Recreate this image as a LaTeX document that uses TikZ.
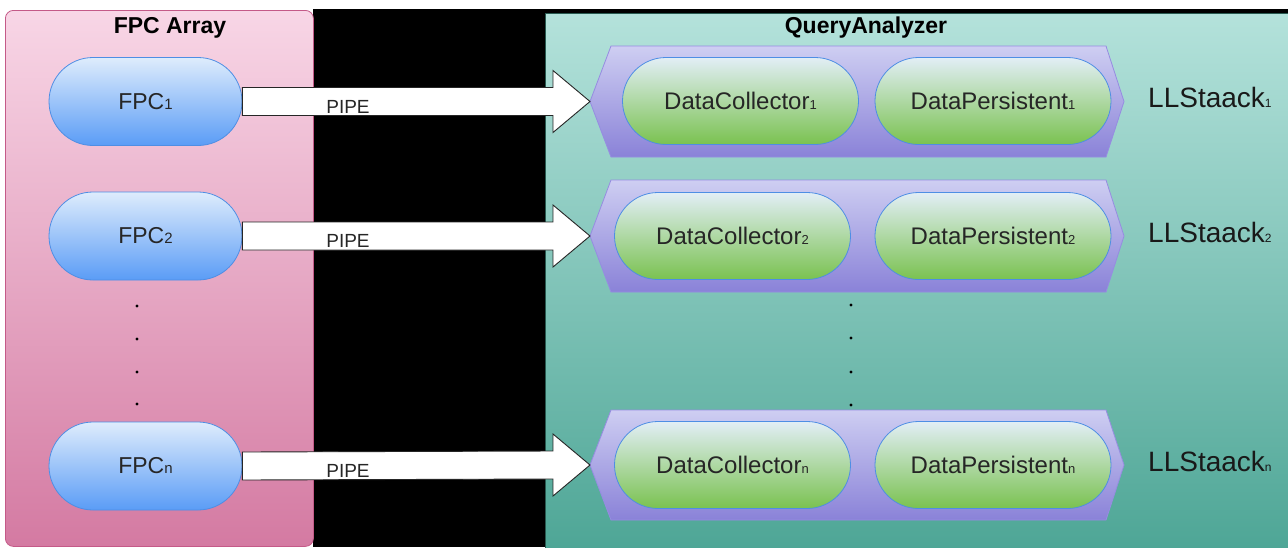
\documentclass[tikz,border=0pt]{standalone}
\usepackage{fontspec}
\setmainfont{Liberation Sans}
\usetikzlibrary{shapes.misc,calc}
\definecolor{pinkT}{RGB}{248,214,230}
\definecolor{pinkB}{RGB}{212,122,162}
\definecolor{pinkD}{RGB}{196,90,136}
\definecolor{tealT}{RGB}{180,226,219}
\definecolor{tealB}{RGB}{78,166,150}
\definecolor{tealD}{RGB}{40,90,80}
\definecolor{blueT}{RGB}{222,236,252}
\definecolor{blueB}{RGB}{90,156,246}
\definecolor{blueD}{RGB}{78,142,228}
\definecolor{greenT}{RGB}{226,238,246}
\definecolor{greenB}{RGB}{122,194,80}
\definecolor{purpT}{RGB}{206,206,242}
\definecolor{purpB}{RGB}{138,130,216}
\definecolor{purpD}{RGB}{150,140,225}
\newcommand{\myidx}[2][13]{{\fontsize{#1}{#1}\selectfont #2}}
\tikzset{
  panelpink/.style={rectangle, rounded corners=8pt, top color=pinkT, bottom color=pinkB, draw=pinkD, line width=0.8pt, inner sep=0pt, anchor=north west},
  panelteal/.style={rectangle, top color=tealT, bottom color=tealB, draw=tealD, line width=0.6pt, inner sep=0pt, anchor=north west},
  titletext/.style={font=\fontsize{23}{23}\selectfont\bfseries, anchor=base, inner sep=0pt},
  fpcnode/.style={rounded rectangle, minimum width=193pt, minimum height=88pt, inner sep=0pt, top color=blueT, bottom color=blueB, draw=blueD, line width=0.8pt, font=\fontsize{23}{23}\selectfont, text=black!85},
  datanode/.style={rounded rectangle, minimum width=236pt, minimum height=87pt, inner sep=0pt, top color=greenT, bottom color=greenB, draw=blueD, line width=0.8pt, font=\fontsize{24}{24}\selectfont, text=black!85},
  hexshape/.style={top color=purpT, bottom color=purpB, draw=purpD, line width=0.8pt},
  pipe/.style={draw=black!85, fill=white, line width=0.9pt},
  pipetext/.style={font=\fontsize{19}{19}\selectfont, anchor=base, inner sep=0pt, text=black!85},
  stacktext/.style={font=\fontsize{28}{28}\selectfont, anchor=base west, inner sep=0pt, text=black!90},
  dotmark/.style={circle, fill=black, inner sep=0pt, minimum size=3.4pt},
}
\begin{document}
\begin{tikzpicture}[x=1pt,y=-1pt]
\useasboundingbox (0,0) rectangle (1288,547);
\fill[white] (0,0) rectangle (1288,547);
% black background
\fill[black] (313,9) rectangle (1288,547);
% panels
\node[panelpink, minimum width=308pt, minimum height=536pt] (arr) at (5,10) {};
\node[panelteal, minimum width=745pt, minimum height=536pt] (qa) at (545,13) {};
\node[titletext] (arrtitle) at (170,33) {FPC Array};
\node[titletext] (qatitle) at (866,33) {QueryAnalyzer};
% FPC nodes
\node[fpcnode] (f1) at (145.5,101.5) {FPC\myidx[15]{1}};
\node[fpcnode] (f2) at (145.5,236) {FPC\myidx[15]{2}};
\node[fpcnode] (fn) at (145.5,466) {FPC\myidx[15]{n}};
% dots left
\node[dotmark] (ld1) at (137,306) {};
\node[dotmark] (ld2) at (137,339) {};
\node[dotmark] (ld3) at (137,372) {};
\node[dotmark] (ld4) at (137,404) {};
% dots right
\node[dotmark] (rd1) at (851,305) {};
\node[dotmark] (rd2) at (851,338) {};
\node[dotmark] (rd3) at (851,372) {};
\node[dotmark] (rd4) at (851,405) {};
% hexagons
\shade[hexshape] (590,101.5) -- (611,46) -- (1106,46) -- (1124,101.5) -- (1106,157) -- (611,157) -- cycle;
\shade[hexshape] (590,236) -- (611,180) -- (1106,180) -- (1124,236) -- (1106,292) -- (611,292) -- cycle;
\shade[hexshape] (590,465) -- (611,410) -- (1106,410) -- (1124,465) -- (1106,520) -- (611,520) -- cycle;
\coordinate (h1) at (590,101.5);
\coordinate (h2) at (590,236);
\coordinate (hn) at (590,465);
% data nodes
\node[datanode] (c1) at (740.5,101) {DataCollector\myidx{1}};
\node[datanode] (p1) at (993,101) {DataPersistent\myidx{1}};
\node[datanode] (c2) at (732.5,236) {DataCollector\myidx{2}};
\node[datanode] (p2) at (993,236) {DataPersistent\myidx{2}};
\node[datanode] (cn) at (732.5,465) {DataCollector\myidx{n}};
\node[datanode] (pn) at (993,465) {DataPersistent\myidx{n}};
% stack labels
\node[stacktext] (s1) at (1148,107) {LLStaack\myidx[12]{1}};
\node[stacktext] (s2) at (1148,242) {LLStaack\myidx[12]{2}};
\node[stacktext] (sn) at (1148,471) {LLStaack\myidx[12]{n}};
% pipes
\foreach \a/\b in {f1/h1, f2/h2, fn/hn}{
  \draw[pipe] ($(\a.east)+(0,-14)$) -- ($(\b)+(-37,-14)$) -- ($(\b)+(-37,-31)$) -- (\b)
     -- ($(\b)+(-37,31)$) -- ($(\b)+(-37,14)$) -- ($(\a.east)+(0,14)$) -- cycle;
}
\node[pipetext] (l1) at (348,113) {PIPE};
\node[pipetext] (l2) at (348,247) {PIPE};
\node[pipetext] (ln) at (348,477) {PIPE};
\end{tikzpicture}
\end{document}
